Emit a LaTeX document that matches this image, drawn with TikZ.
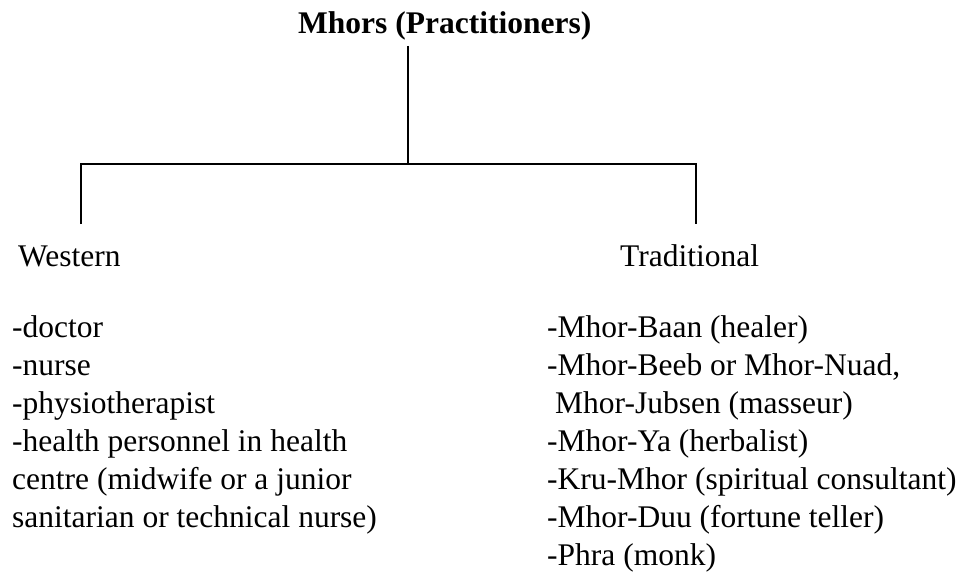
\documentclass[tikz,border=0pt]{standalone}
\usepackage{fontspec}
\setmainfont{Liberation Serif}
\begin{document}
\begin{tikzpicture}[x=1pt,y=-1pt,
  txt/.style={inner sep=0pt, anchor=base west, font=\fontsize{31.5}{38}\selectfont},
  ttl/.style={txt, font=\fontsize{31.5}{38}\selectfont\bfseries},
  conn/.style={line width=1.4pt, line cap=butt}]
\useasboundingbox (0,0) rectangle (974,576);
\fill[white] (0,0) rectangle (974,576);
% title and categories
\node[ttl] (title) at (298,33) {Mhors (Practitioners)};
\node[txt] (western) at (18,266) {Western};
\node[txt] (trad) at (620,266) {Traditional};
% connectors
\coordinate (j) at (408,164);
\coordinate (hl) at (81,164);
\coordinate (hr) at (696,164);
\coordinate (wend) at (81,224);
\coordinate (tend) at (696,224);
\draw[conn] ([yshift=-6pt]title.south -| j) -- (j);
\draw[conn] (wend) -- (hl) -- (hr) -- (tend);
% western list
\node[txt] (w1) at (12,337) {-doctor};
\node[txt] (w2) at (12,375) {-nurse};
\node[txt] (w3) at (12,413) {-physiotherapist};
\node[txt] (w4) at (12,451) {-health personnel in health};
\node[txt] (w5) at (12,489) {centre (midwife or a junior};
\node[txt] (w6) at (12,527) {sanitarian or technical nurse)};
% traditional list
\node[txt] (t1) at (547,337) {-Mhor-Baan (healer)};
\node[txt] (t2) at (547,375) {-Mhor-Beeb or Mhor-Nuad,};
\node[txt] (t3) at (555,413) {Mhor-Jubsen (masseur)};
\node[txt] (t4) at (547,451) {-Mhor-Ya (herbalist)};
\node[txt] (t5) at (547,489) {-Kru-Mhor (spiritual consultant)};
\node[txt] (t6) at (547,527) {-Mhor-Duu (fortune teller)};
\node[txt] (t7) at (547,565) {-Phra (monk)};
\end{tikzpicture}
\end{document}
